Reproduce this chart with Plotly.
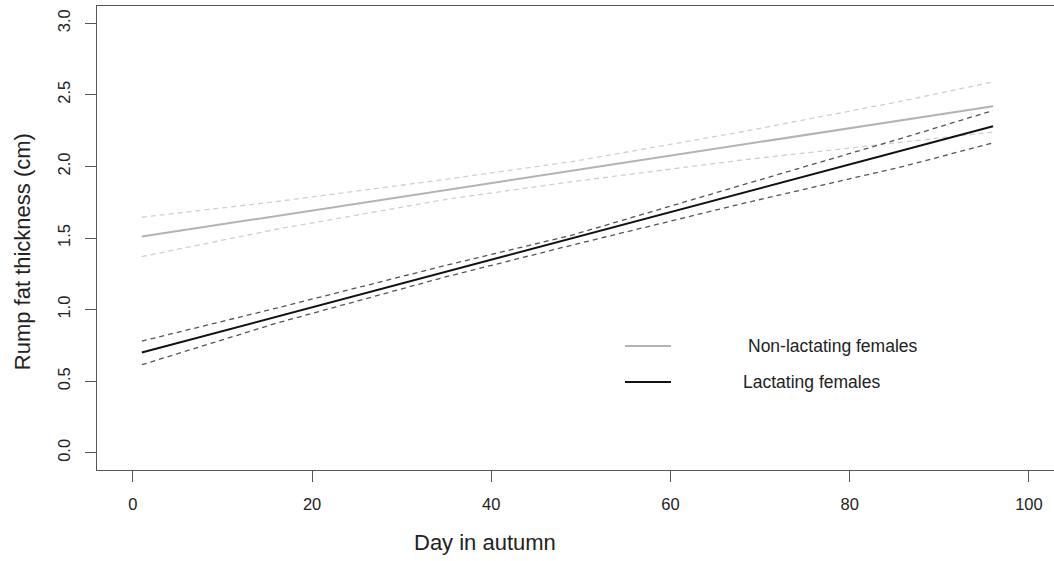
import plotly.graph_objects as go

# ---- data ----
line_days = [1, 96]
nonlact_fit = [1.51, 2.42]
lact_fit = [0.70, 2.28]

ci_days = [1, 16, 35, 49, 68, 86, 96]
nonlact_upper = [1.645, 1.754, 1.910, 2.033, 2.242, 2.458, 2.59]
nonlact_lower = [1.37, 1.561, 1.770, 1.893, 2.045, 2.172, 2.24]
lact_upper = [0.78, 1.01, 1.31, 1.52, 1.87, 2.20, 2.39]
lact_lower = [0.615, 0.905, 1.23, 1.45, 1.74, 2.00, 2.165]

x_ticks = [0, 20, 40, 60, 80, 100]
y_ticks = [0.0, 0.5, 1.0, 1.5, 2.0, 2.5, 3.0]
y_tick_labels = ["0.0", "0.5", "1.0", "1.5", "2.0", "2.5", "3.0"]

FONT = "Liberation Sans, Arial, Helvetica, sans-serif"
TXT = "#222222"
AX = "#555555"

fig = go.Figure()
dash = "5px,4px"
fig.add_trace(go.Scatter(x=ci_days, y=nonlact_upper, mode="lines",
                         line=dict(color="#cfcfcf", width=1.3, dash=dash), showlegend=False))
fig.add_trace(go.Scatter(x=ci_days, y=nonlact_lower, mode="lines",
                         line=dict(color="#cfcfcf", width=1.3, dash=dash), showlegend=False))
fig.add_trace(go.Scatter(x=line_days, y=nonlact_fit, mode="lines",
                         line=dict(color="#b3b3b3", width=2), showlegend=False))
fig.add_trace(go.Scatter(x=ci_days, y=lact_upper, mode="lines",
                         line=dict(color="#555555", width=1.3, dash=dash), showlegend=False))
fig.add_trace(go.Scatter(x=ci_days, y=lact_lower, mode="lines",
                         line=dict(color="#555555", width=1.3, dash=dash), showlegend=False))
fig.add_trace(go.Scatter(x=line_days, y=lact_fit, mode="lines",
                         line=dict(color="#111111", width=2), showlegend=False))

# legend (drawn manually in paper coords)
fig.add_shape(type="line", xref="paper", yref="paper", x0=0.5517, x1=0.5998, y0=0.2672, y1=0.2672,
              line=dict(color="#b3b3b3", width=2))
fig.add_shape(type="line", xref="paper", yref="paper", x0=0.5517, x1=0.5998, y0=0.1897, y1=0.1897,
              line=dict(color="#111111", width=2))
fig.add_annotation(xref="paper", yref="paper", x=0.6782, y=0.2672, text="Non-lactating females",
                   showarrow=False, xanchor="left", yanchor="middle",
                   font=dict(family=FONT, size=17.5, color=TXT))
fig.add_annotation(xref="paper", yref="paper", x=0.6730, y=0.1897, text="Lactating females",
                   showarrow=False, xanchor="left", yanchor="middle",
                   font=dict(family=FONT, size=17.5, color=TXT))

# axis titles
fig.add_annotation(xref="paper", yref="paper", x=0.4054, y=-0.157, text="Day in autumn",
                   showarrow=False, xanchor="center", yanchor="middle",
                   font=dict(family=FONT, size=22, color=TXT))
fig.add_annotation(xref="paper", yref="paper", x=-0.077, y=0.47, text="Rump fat thickness (cm)",
                   showarrow=False, xanchor="center", yanchor="middle", textangle=-90,
                   font=dict(family=FONT, size=22, color=TXT))

fig.update_xaxes(range=[-4, 102.8], tickvals=x_ticks, ticks="outside", ticklen=11, tickwidth=1,
                 tickcolor=AX, showline=True, linecolor=AX, linewidth=1.3, mirror=True,
                 showgrid=False, zeroline=False, ticklabelstandoff=8,
                 tickfont=dict(family=FONT, size=16.5, color=TXT))
fig.update_yaxes(range=[-0.12, 3.12], tickvals=y_ticks, ticktext=y_tick_labels, ticks="outside",
                 ticklen=11, tickwidth=1, tickcolor=AX, showline=True, linecolor=AX, linewidth=1.3,
                 mirror=False, showgrid=False, zeroline=False, tickangle=-90, ticklabelstandoff=8,
                 tickfont=dict(family=FONT, size=16.5, color=TXT))

fig.update_layout(width=1054, height=561, margin=dict(l=97, r=0, t=6, b=91),
                  plot_bgcolor="white", paper_bgcolor="white", showlegend=False)

fig.write_html("out.html")
